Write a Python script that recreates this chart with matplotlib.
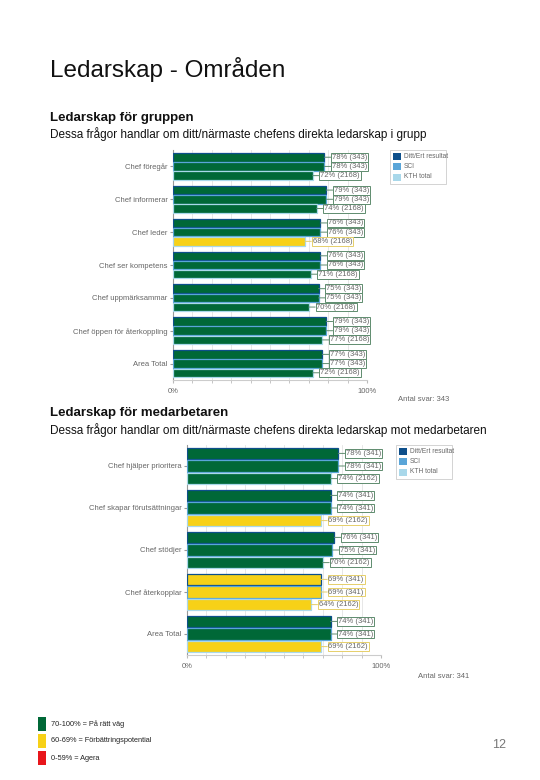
import matplotlib
matplotlib.use("Agg")
import matplotlib.pyplot as plt
from matplotlib.patches import Rectangle

plt.rcParams['font.family'] = ['Liberation Sans', 'DejaVu Sans']

# ---------------- data ----------------
series_names = ["Ditt/Ert resultat", "SCI", "KTH total"]

top_categories = ["Chef föregår", "Chef informerar", "Chef leder", "Chef ser kompetens",
                  "Chef uppmärksammar", "Chef öppen för återkoppling", "Area Total"]
top_result = [78, 79, 76, 76, 75, 79, 77]
top_sci = [78, 79, 76, 76, 75, 79, 77]
top_kth = [72, 74, 68, 71, 70, 77, 72]
top_n = [343, 343, 2168]
top_antal = 343

bottom_categories = ["Chef hjälper prioritera", "Chef skapar förutsättningar", "Chef stödjer",
                     "Chef återkopplar", "Area Total"]
bottom_result = [78, 74, 76, 69, 74]
bottom_sci = [78, 74, 75, 69, 74]
bottom_kth = [74, 69, 70, 64, 69]
bottom_n = [341, 341, 2162]
bottom_antal = 341

scale_labels = ["70-100% = På rätt väg", "60-69% = Förbättringspotential", "0-59% = Agera"]

# ---------------- styling ----------------
W, H = 540, 780
GREEN = "#006837"
YELLOW = "#f7d117"
RED = "#e8161b"
SERIES_EDGE = ["#0d4f8b", "#5aa5d8", "#a9d8ea"]
BOX_EDGE = {"g": "#5e8c6e", "y": "#e6cf6a"}


def fc(v):
    if v >= 70:
        return GREEN, "g"
    if v >= 60:
        return YELLOW, "y"
    return RED, "r"


fig = plt.figure(figsize=(W / 100, H / 100), dpi=100)


def fx(x):
    return x / W


def fy(y):
    return 1 - y / H


def ptext(x, y, s, **kw):
    fig.text(fx(x), fy(y), s, **kw)


ptext(50, 70, "Ledarskap - Områden", fontsize=17.5, va="center", ha="left", color="#111")
ptext(50, 118, "Ledarskap för gruppen", fontsize=9.5, fontweight="bold", va="center", color="#111")
ptext(50, 134, "Dessa frågor handlar om ditt/närmaste chefens direkta ledarskap i grupp",
      fontsize=8.5, va="center", color="#111")
ptext(50, 413, "Ledarskap för medarbetaren", fontsize=9.5, fontweight="bold", va="center", color="#111")
ptext(50, 430, "Dessa frågor handlar om ditt/närmaste chefens direkta ledarskap mot medarbetaren",
      fontsize=8.5, va="center", color="#111")


def draw_chart(left, top, right, bottom, cats, vals_list, ns, antal, antal_xy, legend_xy, step, bh):
    ax = fig.add_axes([fx(left), fy(bottom), fx(right - left), (bottom - top) / H])
    ng = len(cats)
    for gi in range(ng):
        for si in range(3):
            v = vals_list[si][gi]
            y = gi + (si - 1) * step
            face, key = fc(v)
            ax.barh(y, v, height=bh, color=face, edgecolor=SERIES_EDGE[si], linewidth=0.9, zorder=3)
            ax.annotate(f"{v}% ({ns[si]})", xy=(v, y), xytext=(5.5, 0), textcoords="offset points",
                        ha="left", va="center", fontsize=5.5, color="#666",
                        bbox=dict(boxstyle="square,pad=0.12", fc="white", ec=BOX_EDGE.get(key, RED), lw=0.7),
                        arrowprops=dict(arrowstyle="-", color=BOX_EDGE.get(key, RED), lw=0.7,
                                        shrinkA=0, shrinkB=0),
                        zorder=4, annotation_clip=False)
    ax.set_xlim(0, 100)
    ax.set_ylim(ng - 0.5, -0.5)
    ax.set_yticks(range(ng))
    ax.set_yticklabels(cats, fontsize=5.5, color="#666")
    ax.set_xticks([0, 100])
    ax.set_xticklabels(["0%", "100%"], fontsize=5.5, color="#666")
    ax.set_xticks(range(0, 101, 10), minor=True)
    ax.tick_params(axis="y", length=2, color="#999", pad=2)
    ax.tick_params(axis="x", which="both", length=2, color="#bbb", pad=4)
    ax.grid(axis="x", which="minor", color="#e3e3e3", lw=0.6, zorder=0)
    for s in ["top", "right"]:
        ax.spines[s].set_visible(False)
    ax.spines["left"].set_color("#999")
    ax.spines["bottom"].set_color("#ccc")
    ax.spines["left"].set_linewidth(0.8)
    ax.spines["bottom"].set_linewidth(0.8)
    ax.set_facecolor("none")
    ptext(antal_xy[0], antal_xy[1], f"Antal svar: {antal}", fontsize=5.5, color="#666", va="center")
    # legend box
    lx, ly = legend_xy
    fig.patches.append(Rectangle((fx(lx), fy(ly + 34)), 56 / W, 34 / H, transform=fig.transFigure,
                                 fc="white", ec="#ccc", lw=0.6))
    for i, name in enumerate(series_names):
        yy = ly + 6 + i * 10.5
        fig.patches.append(Rectangle((fx(lx + 3), fy(yy + 3.5)), 8 / W, 7 / H, transform=fig.transFigure,
                                     fc=SERIES_EDGE[i], ec="none"))
        ptext(lx + 14, yy, name, fontsize=4.8, color="#666", va="center")
    return ax


draw_chart(173, 150, 367, 380, top_categories, [top_result, top_sci, top_kth], top_n, top_antal,
           (398, 400), (390, 150), 0.28, 0.26)
draw_chart(187, 445, 381, 655, bottom_categories, [bottom_result, bottom_sci, bottom_kth], bottom_n,
           bottom_antal, (418, 677), (396, 445), 0.30, 0.27)

# footer scale legend
for i, (lab, col) in enumerate(zip(scale_labels, [GREEN, YELLOW, RED])):
    yy = 724 + i * 17
    fig.patches.append(Rectangle((fx(38), fy(yy + 7)), 8 / W, 14 / H, transform=fig.transFigure,
                                 fc=col, ec="none"))
    ptext(51, yy, lab, fontsize=5.3, color="#222", va="center")

ptext(492, 745, "12", fontsize=9, color="#777", va="center")

fig.savefig("out.png", dpi=100, facecolor="white")
